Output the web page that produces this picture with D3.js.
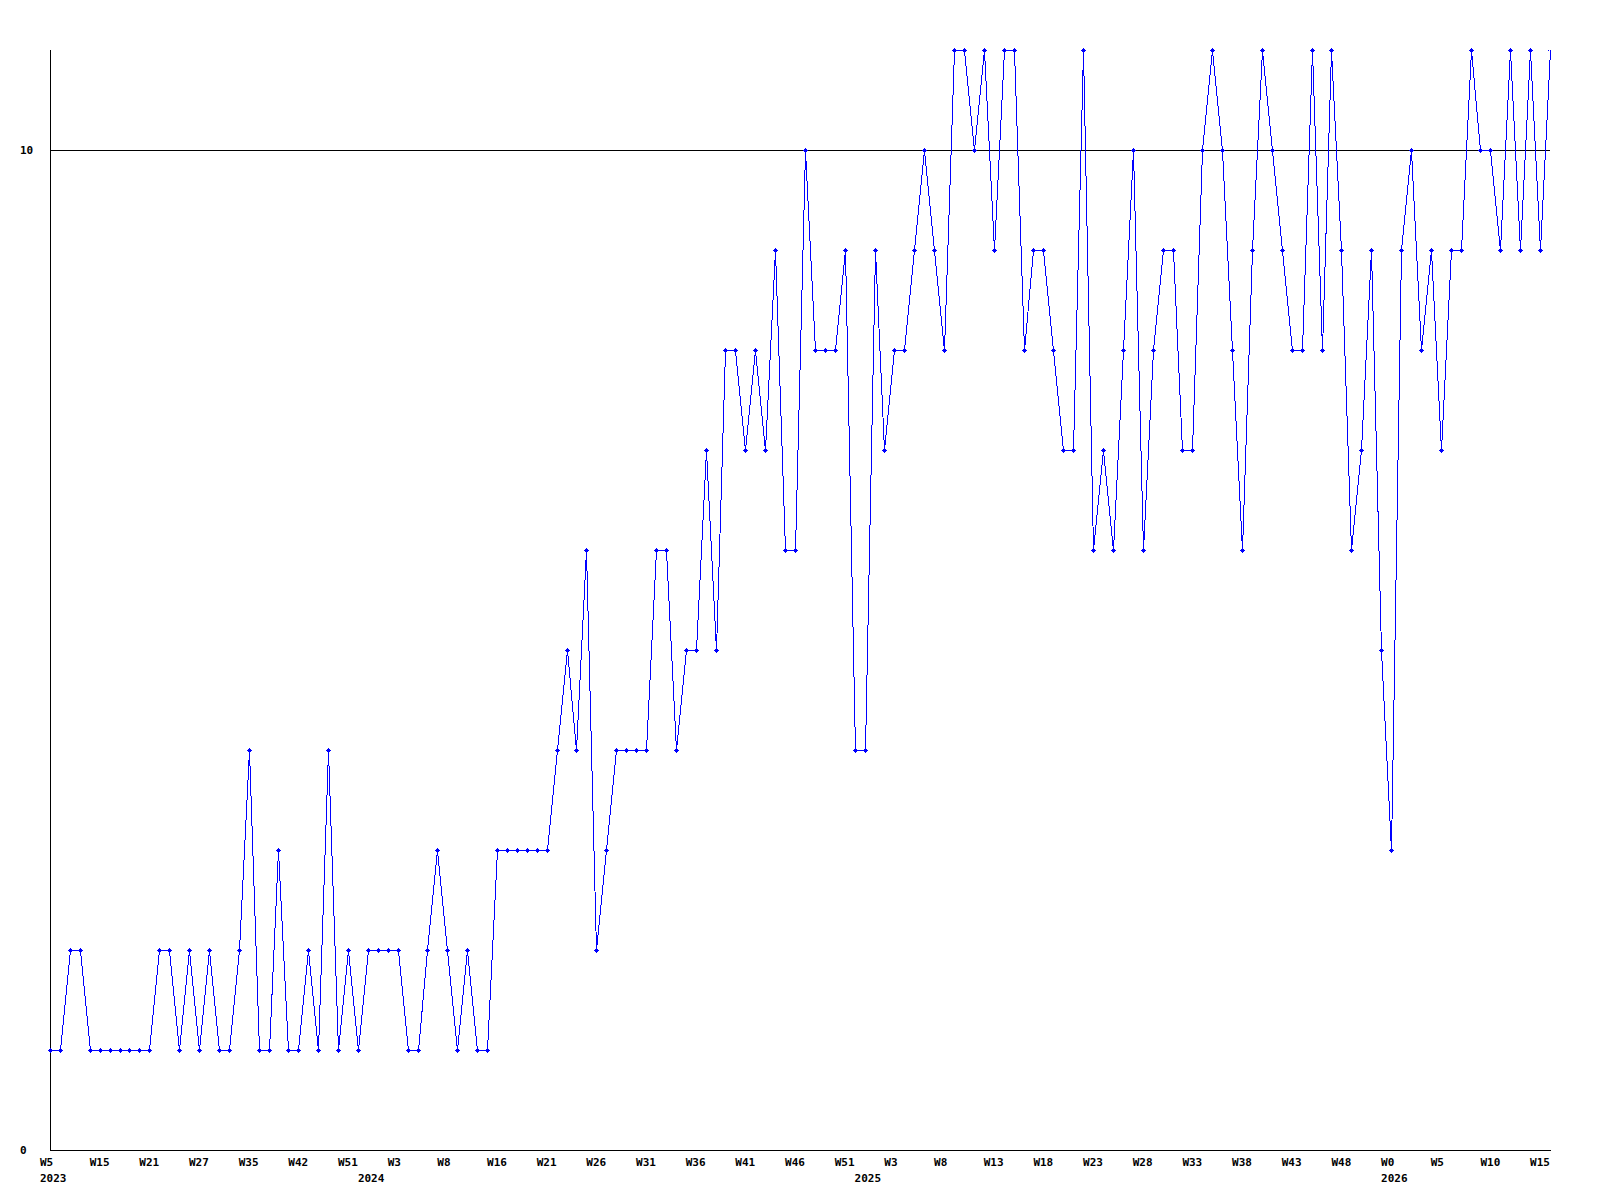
<!DOCTYPE html>
<html>
<head>
<meta charset="utf-8">
<script src="https://cdn.jsdelivr.net/npm/d3@7"></script>
<style>
  html, body { margin: 0; padding: 0; background: #ffffff; }
  svg { display: block; }
  text { font-family: "DejaVu Sans Mono", "Liberation Mono", monospace; font-weight: bold; font-size: 11px; fill: #000; }
</style>
</head>
<body>
<svg id="chart" width="1600" height="1200"></svg>
<script>
// Data (one value per sample, left to right)
const values = [
  1,1,2,2,1,1,1,1,1,1,1,
  2,2,1,2,1,2,1,1,2,4,
  1,1,3,1,1,2,1,4,1,2,
  1,2,2,2,2,1,1,2,3,2,
  1,2,1,1,3,3,3,3,3,3,
  4,5,4,6,2,3,4,4,4,4,
  6,6,4,5,5,7,5,8,8,7,
  8,7,9,6,6,10,8,8,8,9,
  4,4,9,7,8,8,9,10,9,8,
  11,11,10,11,9,11,11,8,9,9,
  8,7,7,11,6,7,6,8,10,6,
  8,9,9,7,7,10,11,10,8,6,
  9,11,10,9,8,8,11,8,11,9,
  6,7,9,5,3,9,10,8,9,7,
  9,9,11,10,10,9,11,9,11,9,11
];
// Week tick labels, one every 5 samples
const weekLabels = ["W5","W15","W21","W27","W35","W42","W51","W3","W8","W16","W21",
  "W26","W31","W36","W41","W46","W51","W3","W8","W13","W18","W23","W28","W33",
  "W38","W43","W48","W0","W5","W10","W15"];
const weekTickStep = 5;
// Year labels with the sample index where each year starts
const yearLabels = ["2023","2024","2025","2026"];
const yearStartIndex = [0,32,82,135];
// Y ticks
const yTicks = [0,10];

const svg = d3.select("#chart");
const x = d3.scaleLinear().domain([0, values.length - 1]).range([50, 1550]);
const y = d3.scaleLinear().domain([0, 11]).range([1150, 50]);

svg.append("defs").append("clipPath").attr("id", "plotclip")
  .append("rect").attr("x", 45).attr("y", 40).attr("width", 1504).attr("height", 1120);

// Gridline at 10
svg.append("line")
  .attr("x1", 50).attr("x2", 1550)
  .attr("y1", Math.round(y(10)) + 0.5).attr("y2", Math.round(y(10)) + 0.5)
  .attr("stroke", "#000").attr("stroke-width", 1)
  .attr("shape-rendering", "crispEdges");

// Axes lines
svg.append("line")
  .attr("x1", 50.5).attr("x2", 50.5)
  .attr("y1", y(11)).attr("y2", y(0) + 1)
  .attr("stroke", "#000").attr("stroke-width", 1)
  .attr("shape-rendering", "crispEdges");
svg.append("line")
  .attr("x1", 50).attr("x2", 1551)
  .attr("y1", y(0) + 0.5).attr("y2", y(0) + 0.5)
  .attr("stroke", "#000").attr("stroke-width", 1)
  .attr("shape-rendering", "crispEdges");

// Y labels
svg.selectAll("text.ylab").data(yTicks).join("text")
  .attr("class", "ylab")
  .attr("x", 20)
  .attr("y", d => y(d) + 4)
  .attr("text-anchor", "start")
  .text(d => d);

// Week labels
svg.selectAll("text.wlab").data(weekLabels).join("text")
  .attr("class", "wlab")
  .attr("x", (d, i) => x(i * weekTickStep) - 10)
  .attr("y", 1166)
  .attr("text-anchor", "start")
  .text(d => d);

// Year labels
svg.selectAll("text.ylab2").data(yearLabels).join("text")
  .attr("class", "ylab2")
  .attr("x", (d, i) => x(yearStartIndex[i]) - 10)
  .attr("y", 1182)
  .attr("text-anchor", "start")
  .text(d => d);

// Line
const line = d3.line().x((d, i) => Math.round(x(i)) + 0.5).y(d => Math.round(y(d)) + 0.5);
svg.append("path")
  .datum(values)
  .attr("d", line)
  .attr("fill", "none")
  .attr("stroke", "#0000ff")
  .attr("stroke-width", 1)
  .attr("shape-rendering", "crispEdges");

// Markers (small plus)
const mk = svg.append("g").attr("fill", "#0000ff").attr("shape-rendering", "crispEdges")
  .attr("clip-path", "url(#plotclip)");
const pts = values.map((v, i) => ({cx: Math.round(x(i)), cy: Math.round(y(v))}));
mk.selectAll("rect.h").data(pts).join("rect").attr("class", "h")
  .attr("x", d => d.cx - 2).attr("y", d => d.cy).attr("width", 5).attr("height", 1);
mk.selectAll("rect.v").data(pts).join("rect").attr("class", "v")
  .attr("x", d => d.cx).attr("y", d => d.cy - 2).attr("width", 1).attr("height", 5);
mk.selectAll("rect.c").data(pts).join("rect").attr("class", "c")
  .attr("x", d => d.cx - 1).attr("y", d => d.cy - 1).attr("width", 3).attr("height", 3);
</script>
</body>
</html>
